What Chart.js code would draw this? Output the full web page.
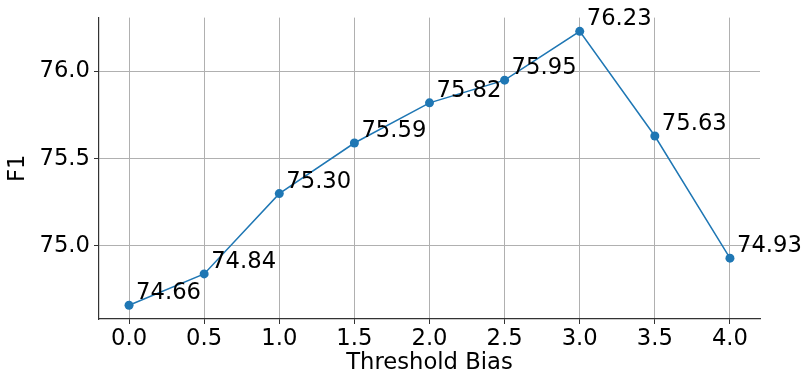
<!DOCTYPE html>
<html>
<head>
<meta charset="utf-8">
<script src="https://cdn.jsdelivr.net/npm/chart.js@4"></script>
<style>
  html, body { margin: 0; padding: 0; background: #fff; }
  #wrap { width: 803px; height: 379px; }
</style>
</head>
<body>
<div id="wrap"><canvas id="c" width="803" height="379"></canvas></div>
<script>
// values
const thresholds = [0.0, 0.5, 1.0, 1.5, 2.0, 2.5, 3.0, 3.5, 4.0];
const f1Scores = [74.66, 74.84, 75.30, 75.59, 75.82, 75.95, 76.23, 75.63, 74.93];
const xTicks = [0.0, 0.5, 1.0, 1.5, 2.0, 2.5, 3.0, 3.5, 4.0];
const yTicks = [75.0, 75.5, 76.0];

const FONT = "'DejaVu Sans', sans-serif";
const FSIZE = 22.7;
const BLUE = '#1f77b4';

// writes the value next to each marker, like ax.annotate in matplotlib
const pointLabels = {
    id: 'pointLabels',
    afterDatasetsDraw(chart) {
        const ctx = chart.ctx;
        const meta = chart.getDatasetMeta(0);
        ctx.save();
        ctx.font = FSIZE + 'px ' + FONT;
        ctx.fillStyle = '#000';
        ctx.textAlign = 'left';
        ctx.textBaseline = 'alphabetic';
        meta.data.forEach((pt, i) => {
            ctx.fillText(f1Scores[i].toFixed(2), pt.x + 7, pt.y - 6);
        });
        ctx.restore();
    }
};

new Chart(document.getElementById('c'), {
    type: 'line',
    data: {
        datasets: [{
            data: thresholds.map((t, i) => ({x: t, y: f1Scores[i]})),
            borderColor: BLUE,
            backgroundColor: BLUE,
            borderWidth: 1.5,
            pointRadius: 4.5,
            pointHoverRadius: 4.5,
            pointBorderWidth: 0,
            tension: 0
        }]
    },
    options: {
        responsive: false,
        animation: false,
        layout: { padding: { top: 17, right: 43, left: 0, bottom: 0 } },
        plugins: { legend: { display: false }, tooltip: { enabled: false } },
        scales: {
            x: {
                type: 'linear',
                min: -0.2,
                max: 4.2,
                afterBuildTicks: s => { s.ticks = xTicks.map(v => ({value: v})); },
                afterFit: s => { s.height = 60; },
                border: { display: true, color: '#333', width: 1.2 },
                grid: { color: '#b0b0b0', lineWidth: 1, tickLength: 5, tickColor: '#333', drawTicks: true },
                ticks: {
                    font: { family: FONT, size: FSIZE },
                    color: '#000',
                    padding: 1,
                    maxRotation: 0,
                    callback: v => v.toFixed(1)
                },
                title: {
                    display: true,
                    text: 'Threshold Bias',
                    font: { family: FONT, size: FSIZE },
                    color: '#000',
                    padding: { top: 0, bottom: 2 }
                }
            },
            y: {
                type: 'linear',
                min: 74.5815,
                max: 76.3085,
                afterBuildTicks: s => { s.ticks = yTicks.map(v => ({value: v})); },
                afterFit: s => { s.width = 99; },
                border: { display: true, color: '#333', width: 1.2 },
                grid: { color: '#b0b0b0', lineWidth: 1, tickLength: 5, tickColor: '#333', drawTicks: true },
                ticks: {
                    font: { family: FONT, size: FSIZE },
                    color: '#000',
                    padding: 4,
                    callback: v => v.toFixed(1)
                },
                title: {
                    display: true,
                    text: 'F1',
                    font: { family: FONT, size: FSIZE },
                    color: '#000',
                    padding: { top: 4, bottom: 0 }
                }
            }
        }
    },
    plugins: [pointLabels]
});
</script>
</body>
</html>
